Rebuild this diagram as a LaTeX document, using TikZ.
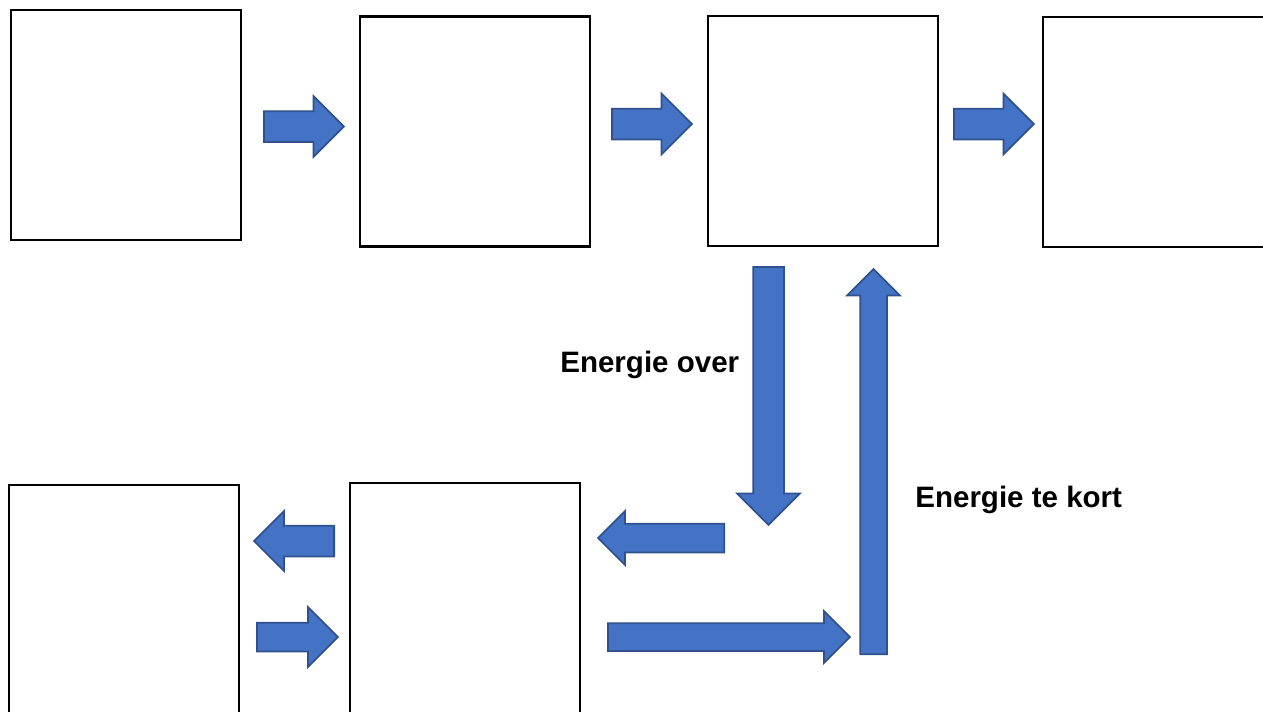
\documentclass[tikz,border=0pt]{standalone}
\usepackage{fontspec}
\setmainfont{Liberation Sans}
\usetikzlibrary{shapes.arrows}
\definecolor{arrowfill}{HTML}{4472C4}
\definecolor{arrowedge}{HTML}{2F528F}

\begin{document}
\begin{tikzpicture}[x=0.02cm,y=-0.02cm]
        \useasboundingbox (0,0) rectangle (1263,711);
        \begin{scope}[every node/.style={draw=black,line width=1.5pt,minimum size=4.6cm,inner sep=0pt}]
            \node (b1) at (126,125) {};
            \node (b2) at (475,131.5) {};
            \node (b3) at (823,131) {};
            \node (b4) at (1158,132) {};

            \node (b5) at (124,600) {};
            \node (b6) at (465,598) {};
        \end{scope}
        \begin{scope}[every node/.style={single arrow,draw=arrowedge,fill=arrowfill,line width=1pt,anchor=tail,
                inner xsep=0pt,text height=0pt,text depth=0pt,single arrow tip angle=90}]
            \node[minimum height=1.6cm,inner ysep=0.29cm,single arrow head extend=0.3cm] (a1) at (263,126.5) {};
            \node[minimum height=1.6cm,inner ysep=0.29cm,single arrow head extend=0.3cm] (a2) at (611,124) {};
            \node[minimum height=1.6cm,inner ysep=0.29cm,single arrow head extend=0.3cm] (a3) at (953,124) {};

            \node[rotate=-90,minimum height=5.16cm,inner ysep=0.29cm,single arrow head extend=0.32cm] (a4) at (768.5,266) {};
            \node[rotate=90,minimum height=7.7cm,inner ysep=0.25cm,single arrow head extend=0.26cm] (a5) at (873.5,655) {};
            \node[rotate=180,minimum height=2.52cm,inner ysep=0.27cm,single arrow head extend=0.25cm] (a6) at (725,538) {};
            \node[minimum height=4.84cm,inner ysep=0.26cm,single arrow head extend=0.24cm] (a7) at (607,637) {};

            \node[rotate=180,minimum height=1.6cm,inner ysep=0.29cm,single arrow head extend=0.29cm] (a8) at (335,541) {};
            \node[minimum height=1.62cm,inner ysep=0.27cm,single arrow head extend=0.31cm] (a9) at (256,637) {};
        \end{scope}
        \begin{scope}[every node/.style={anchor=base west,inner sep=0pt,font=\bfseries\fontsize{16.8}{20}\selectfont}]
            \node (over) at (560,372.5) {Energie over};
            \node (kort) at (915,507) {Energie te kort};
        \end{scope}
    \end{tikzpicture}
\end{document}
